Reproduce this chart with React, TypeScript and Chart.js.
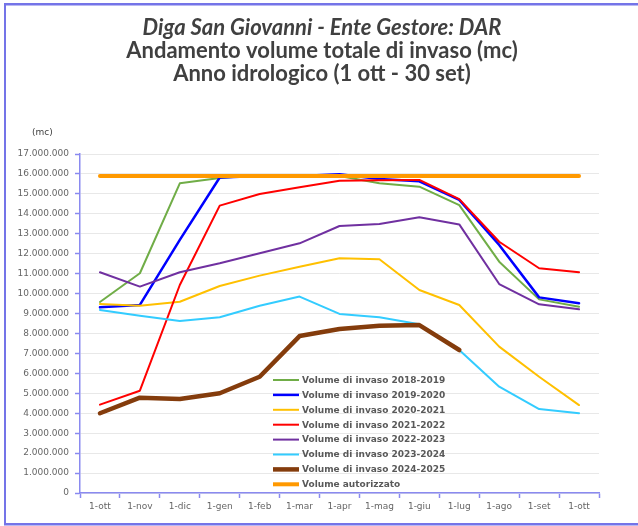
import React, { useEffect, useRef } from 'react';
import { Chart, registerables } from 'chart.js';

Chart.register(...registerables);

const categories = ['1-ott', '1-nov', '1-dic', '1-gen', '1-feb', '1-mar', '1-apr', '1-mag', '1-giu', '1-lug', '1-ago', '1-set', '1-ott'];

const titleLines = [
  'Diga San Giovanni - Ente Gestore: DAR',
  'Andamento volume totale di invaso (mc)',
  'Anno idrologico (1 ott - 30 set)',
];
const unitLabel = '(mc)';

const labels = [
  'Volume di invaso 2018-2019',
  'Volume di invaso 2019-2020',
  'Volume di invaso 2020-2021',
  'Volume di invaso 2021-2022',
  'Volume di invaso 2022-2023',
  'Volume di invaso 2023-2024',
  'Volume di invaso 2024-2025',
  'Volume autorizzato',
];

const vol2018_2019 = [9580000, 11020000, 15530000, 15800000, 15950000, 15900000, 15900000, 15530000, 15360000, 14440000, 11600000, 9710000, 9340000];
const vol2019_2020 = [9310000, 9430000, 12690000, 15820000, 15900000, 15900000, 15980000, 15750000, 15630000, 14700000, 12440000, 9810000, 9510000];
const vol2020_2021 = [9480000, 9390000, 9590000, 10380000, 10900000, 11350000, 11770000, 11720000, 10180000, 9430000, 7340000, 5830000, 4410000];
const vol2021_2022 = [4430000, 5130000, 10430000, 14410000, 14990000, 15330000, 15660000, 15680000, 15700000, 14740000, 12600000, 11270000, 11070000];
const vol2022_2023 = [11070000, 10350000, 11070000, 11520000, 12020000, 12520000, 13390000, 13490000, 13830000, 13470000, 10480000, 9460000, 9210000];
const vol2023_2024 = [9180000, 8890000, 8630000, 8810000, 9390000, 9850000, 8980000, 8810000, 8460000, 7170000, 5330000, 4210000, 4000000];
const vol2024_2025 = [4000000, 4780000, 4710000, 5000000, 5830000, 7870000, 8220000, 8390000, 8420000, 7170000, null, null, null];
const volAutorizzato = [15900000, 15900000, 15900000, 15900000, 15900000, 15900000, 15900000, 15900000, 15900000, 15900000, 15900000, 15900000, 15900000];

const yMin = 0;
const yMax = 17000000;
const yStep = 1000000;

function formatIt(v: number): string {
  return String(Math.round(v)).replace(/\B(?=(\d{3})+(?!\d))/g, '.');
}

const decorPlugin = {
  id: 'decor',
  beforeDraw(chart: any) {
    const ctx = chart.ctx;
    ctx.save();
    ctx.fillStyle = '#ffffff';
    ctx.fillRect(0, 0, chart.width, chart.height);
    ctx.fillStyle = '#7474e8';
    ctx.fillRect(4, 3, chart.width - 4, 2.5);
    ctx.fillRect(4, 523, chart.width - 4, 2.5);
    ctx.fillRect(4, 3, 2, 522);
    ctx.restore();
  },
  afterDraw(chart: any) {
    const ctx = chart.ctx;
    ctx.save();
    // Title
    ctx.fillStyle = '#404040';
    ctx.textAlign = 'center';
    ctx.textBaseline = 'alphabetic';
    const baselines = [34.5, 57.5, 80.5];
    titleLines.forEach((t, i) => {
      ctx.font = (i === 0 ? 'italic ' : '') + 'bold 22px Lato';
      ctx.fillText(t, 322, baselines[i]);
    });
    // unit label
    ctx.font = '9px "DejaVu Sans"';
    ctx.fillStyle = '#404040';
    ctx.textAlign = 'left';
    ctx.textBaseline = 'middle';
    ctx.fillText(unitLabel, 32, 133);
    // legend
    const ds = chart.data.datasets;
    const x0 = 273;
    const x1 = 299;
    const yStart = 380;
    const dy = 14.9;
    ctx.font = 'bold 9px "DejaVu Sans"';
    ds.forEach((d: any, i: number) => {
      const y = yStart + i * dy;
      ctx.strokeStyle = d.borderColor;
      ctx.lineWidth = d.borderWidth;
      ctx.lineCap = 'butt';
      ctx.beginPath();
      ctx.moveTo(x0, y);
      ctx.lineTo(x1, y);
      ctx.stroke();
      ctx.fillStyle = '#595959';
      ctx.fillText(d.label, 302, y + 0.5);
    });
    ctx.restore();
  },
};

export default function App() {
  const ref = useRef<HTMLCanvasElement | null>(null);
  useEffect(() => {
    const canvas = ref.current;
    if (!canvas) return;
    const mk = (i: number, data: (number | null)[], color: string, width: number) => ({
      label: labels[i],
      data,
      borderColor: color,
      backgroundColor: color,
      borderWidth: width,
      pointRadius: 0,
      pointHoverRadius: 0,
      tension: 0,
      fill: false,
      spanGaps: false,
      order: 7 - i,
      borderJoinStyle: 'round' as const,
      borderCapStyle: 'round' as const,
    });
    const chart = new Chart(canvas, {
      type: 'line',
      data: {
        labels: categories,
        datasets: [
          mk(0, vol2018_2019, '#70AD47', 2),
          mk(1, vol2019_2020, '#0000FF', 2.5),
          mk(2, vol2020_2021, '#FFC000', 2),
          mk(3, vol2021_2022, '#FF0000', 2),
          mk(4, vol2022_2023, '#7030A0', 2),
          mk(5, vol2023_2024, '#33CCFF', 2),
          mk(6, vol2024_2025, '#843C0C', 4.5),
          mk(7, volAutorizzato, '#FF9900', 4),
        ],
      },
      options: {
        responsive: false,
        animation: false,
        devicePixelRatio: 1,
        layout: { padding: { left: 0, right: 39, top: 154, bottom: 0 } },
        plugins: {
          legend: { display: false },
          title: { display: false },
          tooltip: { enabled: false },
        },
        scales: {
          x: {
            type: 'category',
            offset: true,
            afterFit: (s: any) => { s.height = 33; },
            grid: {
              display: true,
              drawOnChartArea: false,
              drawTicks: true,
              tickLength: 5,
              offset: true,
              tickColor: '#8a8af0',
              tickWidth: 1.5,
            },
            border: { display: true, color: '#8a8af0', width: 1.5 },
            ticks: {
              color: '#666666',
              font: { family: 'DejaVu Sans', size: 9 },
              padding: 3,
              maxRotation: 0,
              autoSkip: false,
            },
          },
          y: {
            min: yMin,
            max: yMax,
            afterFit: (s: any) => { s.width = 80; },
            grid: {
              color: '#e8e8e8',
              lineWidth: 1,
              drawTicks: true,
              tickLength: 5,
              tickColor: '#8a8af0',
              tickWidth: 1.5,
            },
            border: { display: true, color: '#8a8af0', width: 1.5 },
            ticks: {
              stepSize: yStep,
              color: '#666666',
              font: { family: 'DejaVu Sans', size: 9 },
              padding: 6,
              callback: (v: any) => formatIt(Number(v)),
            },
          },
        },
      },
      plugins: [decorPlugin],
    });
    return () => chart.destroy();
  }, []);
  return (
    <div style={{ position: 'fixed', left: 0, top: 0, width: 638, height: 526, background: '#fff' }}>
      <canvas ref={ref} width={638} height={526} style={{ display: 'block', width: 638, height: 526 }} />
    </div>
  );
}
